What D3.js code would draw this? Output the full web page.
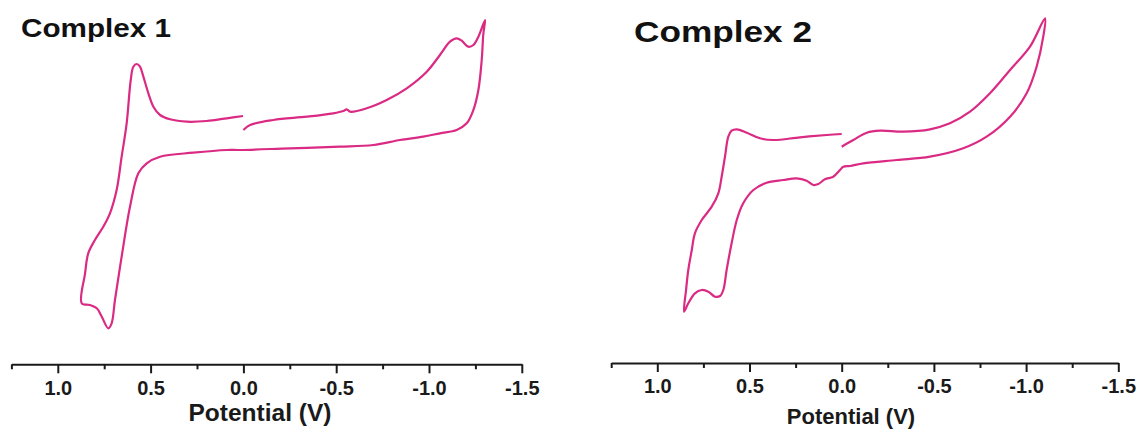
<!DOCTYPE html>
<html>
<head>
<meta charset="utf-8">
<script src="https://cdn.jsdelivr.net/npm/d3@7"></script>
<style>
  body{margin:0;background:#fff;}
  svg{display:block;font-family:"Liberation Sans",Arial,sans-serif;}
</style>
</head>
<body>
<div id="grafico"></div>
<script>
// cyclic voltammograms, potential in V, current in arbitrary units
const potential1 = [0.00,-0.036,-0.161,-0.341,-0.484,-0.538,-0.557,-0.575,-0.664,-0.772,-0.880,-0.988,-1.059,-1.113,-1.149,-1.176,-1.212,-1.239,-1.266,-1.302,
  -1.293,-1.284,-1.266,-1.239,-1.203,-1.149,-1.059,-0.969,-0.844,-0.700,-0.520,-0.251,0.018,0.090,0.270,0.449,0.521,0.566,0.611,0.656,0.692,0.710,0.728,
  0.763,0.790,0.827,0.871,0.853,0.836,0.800,0.755,0.719,0.683,0.656,0.629,0.607,0.593,0.575,0.557,0.539,0.512,0.485,0.449,0.395,0.305,0.198,0.090,0.002];
const current1 = [2.0,2.5,3.0,3.33,3.67,3.9,4.07,3.83,4.17,5.0,6.17,7.83,9.5,10.83,11.17,10.93,10.33,10.5,11.33,13.0,
  11.67,9.0,6.0,4.0,2.67,2.0,1.67,1.33,1.0,0.5,0.33,0.17,0.0,0.0,-0.27,-0.67,-1.33,-2.33,-5.67,-10.67,-15.0,-17.33,-17.83,
  -16.67,-15.83,-15.5,-15.33,-12.33,-10.33,-9.0,-7.67,-6.33,-4.0,-0.67,2.67,7.0,8.33,8.6,8.33,7.33,5.67,4.33,3.5,3.07,2.83,2.9,3.17,3.4];

const potential2 = [0.000,-0.063,-0.136,-0.208,-0.334,-0.479,-0.587,-0.696,-0.804,-0.913,-1.021,-1.103,
  -1.093,-1.057,-1.003,-0.913,-0.786,-0.659,-0.479,-0.298,-0.117,-0.045,-0.009,0.009,0.046,0.091,0.127,0.154,0.190,0.244,0.317,0.407,0.479,0.534,
  0.569,0.597,0.624,0.642,0.660,0.687,0.723,0.759,0.796,0.832,0.855,
  0.844,0.832,0.813,0.796,0.759,0.705,0.669,0.651,0.633,0.615,0.597,0.569,0.515,0.443,0.371,0.226,0.081,0.000];
const current2 = [0.33,1.0,1.73,1.93,1.83,2.07,2.67,3.83,5.67,8.0,10.33,13.17,
  11.33,8.33,5.67,3.33,1.33,0.17,-0.67,-1.0,-1.33,-1.6,-1.67,-2.0,-2.67,-2.93,-3.4,-3.5,-3.07,-2.83,-3.0,-3.27,-4.0,-5.33,
  -7.0,-9.33,-12.0,-14.0,-14.6,-14.67,-14.17,-14.0,-14.33,-15.33,-16.17,
  -14.0,-12.0,-10.0,-8.33,-7.0,-5.67,-4.33,-2.67,-0.67,1.33,1.93,2.07,1.73,1.17,1.0,1.27,1.5,1.6];

const majorTicks = [1.0, 0.5, 0.0, -0.5, -1.0, -1.5];
const minorTicks = [1.25, 0.75, 0.25, -0.25, -0.75, -1.25];
const titles = ["Complex 1", "Complex 2"];
const xLabel = "Potential (V)";

const W = 1140, H = 429;
const svg = d3.select("#grafico").append("svg")
  .attr("width", W).attr("height", H);

// current scale shared by both panels (no y axis drawn)
const y = d3.scaleLinear().domain([-20, 15]).range([350, 0]);

const panels = [
  {V: potential1, I: current1, title: titles[0], xr: [11.4, 521.8], axisY: 364.3, pad: 8, lblSize: 20,
   tx: 21, ty: 37, tSize: 25, tLen: 150, xlx: 260, xly: 420.5, xlSize: 24.5},
  {V: potential2, I: current2, title: titles[1], xr: [611.2, 1118.3], axisY: 363, pad: 7, lblSize: 20,
   tx: 634, ty: 42, tSize: 30, tLen: 178, xlx: 851, xly: 424, xlSize: 22}
];

panels.forEach(p => {
  const x = d3.scaleLinear().domain([1.25, -1.5]).range(p.xr);
  const g = svg.append("g");

  const pts = p.V.map((v, i) => [v, p.I[i]]);
  const line = d3.line()
    .x(d => x(d[0]))
    .y(d => y(d[1]))
    .curve(d3.curveCatmullRom.alpha(0.5));

  g.append("path")
    .datum(pts)
    .attr("d", line)
    .attr("fill", "none")
    .attr("stroke", "#da2a84")
    .attr("stroke-width", 2.2)
    .attr("stroke-linejoin", "round");

  // axis with major + minor ticks
  const ax = g.append("g")
    .attr("transform", `translate(0,${p.axisY})`)
    .call(d3.axisBottom(x).tickValues(majorTicks).tickSize(9).tickSizeOuter(0)
      .tickPadding(p.pad).tickFormat(d => d.toFixed(1)));
  ax.select(".domain").attr("stroke", "#1a1a1a").attr("stroke-width", 2);
  ax.selectAll(".tick line").attr("stroke", "#1a1a1a").attr("stroke-width", 2);
  ax.selectAll(".tick text")
    .attr("font-family", "Liberation Sans, Arial, sans-serif")
    .attr("font-size", p.lblSize).attr("font-weight", "bold").attr("fill", "#1a1a1a");

  const mn = g.append("g")
    .attr("transform", `translate(0,${p.axisY})`)
    .call(d3.axisBottom(x).tickValues(minorTicks).tickSize(5).tickSizeOuter(0).tickFormat(""));
  mn.select(".domain").remove();
  mn.selectAll(".tick line").attr("stroke", "#1a1a1a").attr("stroke-width", 2);

  g.append("text")
    .attr("x", p.xlx).attr("y", p.xly)
    .attr("text-anchor", "middle")
    .attr("font-size", p.xlSize).attr("font-weight", "bold").attr("fill", "#1a1a1a")
    .text(xLabel);

  g.append("text")
    .attr("x", p.tx).attr("y", p.ty)
    .attr("font-size", p.tSize).attr("font-weight", "bold").attr("fill", "#111")
    .attr("textLength", p.tLen).attr("lengthAdjust", "spacingAndGlyphs")
    .text(p.title);
});
</script>
</body>
</html>
